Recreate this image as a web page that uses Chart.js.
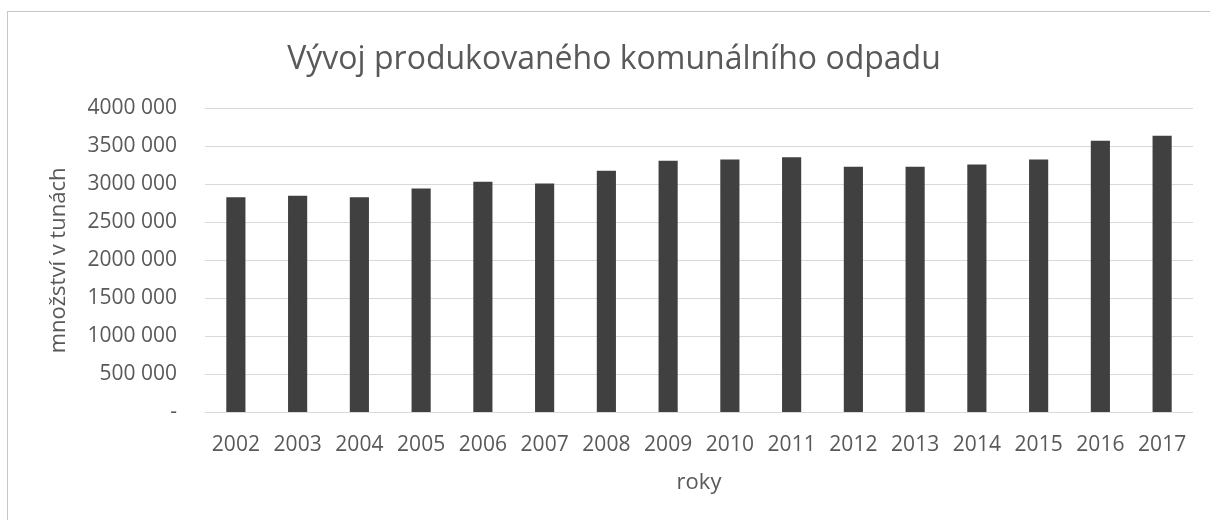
<!DOCTYPE html>
<html>
<head>
<meta charset="utf-8">
<script src="https://cdn.jsdelivr.net/npm/chart.js"></script>
<style>
  html, body { margin: 0; padding: 0; background: #fff; overflow: hidden; }
  #wrap { position: relative; width: 1210px; height: 520px; overflow: hidden; }
  #frame { position: absolute; left: 7px; top: 11px; width: 1300px; height: 600px; border: 1px solid #c6c6c6; pointer-events: none; }
  #chart { position: absolute; left: 0; top: 0; }
</style>
</head>
<body>
<div id="wrap">
  <div id="frame"></div>
  <canvas id="chart" width="1210" height="520"></canvas>
</div>
<script>
const years = ['2002', '2003', '2004', '2005', '2006', '2007', '2008', '2009',
  '2010', '2011', '2012', '2013', '2014', '2015', '2016', '2017'];
const tonnes = [2832000, 2850000, 2832000, 2946000, 3034000, 3012000, 3179000, 3311000,
  3328000, 3359000, 3232000, 3232000, 3262000, 3328000, 3574000, 3640000];
const yTickLabels = ['-', '500 000', '1000 000', '1500 000', '2000 000',
  '2500 000', '3000 000', '3500 000', '4000 000'];

const textColor = '#595959';
const fontFamily = "'Open Sans', sans-serif";

const chartContainer = document.getElementById('chart');
const chartConfig = {
  type: 'bar',
  data: {
    labels: years,
    datasets: [{
      label: 'množství v tunách',
      data: tonnes,
      backgroundColor: '#404040',
      borderWidth: 0,
      barPercentage: 0.31,
      categoryPercentage: 1
    }]
  },
  options: {
    responsive: false,
    animation: false,
    layout: {
      padding: { top: 0, right: 17, bottom: 0, left: 35 }
    },
    plugins: {
      legend: { display: false },
      tooltip: { enabled: false },
      title: {
        display: true,
        text: 'Vývoj produkovaného komunálního odpadu',
        color: textColor,
        font: { family: fontFamily, size: 32, weight: 'normal' },
        padding: { top: 41, bottom: 29 }
      }
    },
    scales: {
      x: {
        grid: { display: false },
        border: { display: false },
        ticks: {
          color: textColor,
          font: { family: fontFamily, size: 21 },
          padding: 12,
          maxRotation: 0,
          autoSkip: false
        },
        title: {
          display: true,
          text: 'roky',
          color: textColor,
          font: { family: fontFamily, size: 22 },
          padding: { top: 0, bottom: 24 }
        },
        afterFit: (scale) => { scale.height = 107.5; }
      },
      y: {
        min: 0,
        max: 4000000,
        grid: { color: '#d9d9d9', drawTicks: false },
        border: { display: false },
        ticks: {
          stepSize: 500000,
          color: textColor,
          font: { family: fontFamily, size: 21 },
          padding: 28,
          callback: (value) => yTickLabels[Math.round(value / 500000)]
        },
        title: {
          display: true,
          text: 'množství v tunách',
          color: textColor,
          font: { family: fontFamily, size: 22 },
          padding: { top: 11, bottom: 0 }
        },
        afterFit: (scale) => { scale.width = 170; }
      }
    }
  }
};

let chart = new Chart(chartContainer, chartConfig);
</script>
</body>
</html>
